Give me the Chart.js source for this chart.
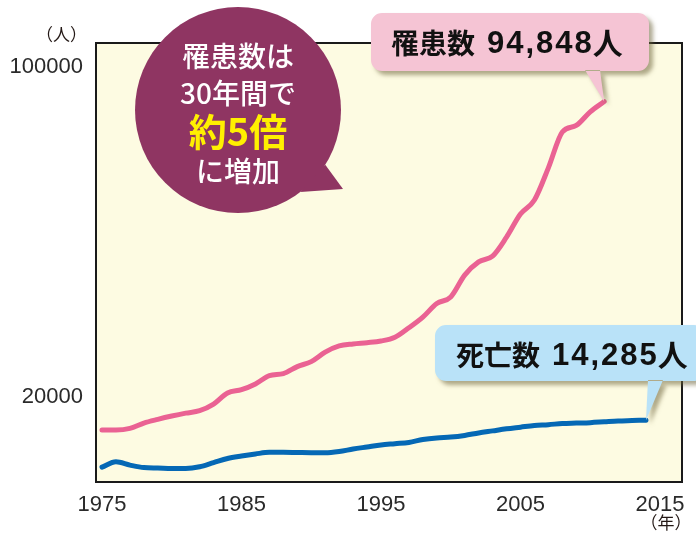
<!DOCTYPE html>
<html lang="ja">
<head>
<meta charset="utf-8">
<script src="https://cdn.jsdelivr.net/npm/chart.js@4.4.1/dist/chart.umd.min.js"></script>
<style>
  html, body { margin: 0; padding: 0; background: #ffffff; }
  #wrap { width: 696px; height: 535px; }
</style>
</head>
<body>
<div id="wrap"><canvas id="cancerChart" width="696" height="535"></canvas></div>
<script>
// years on the x axis (1975 - 2014)
const years = [
  1975, 1976, 1977, 1978, 1979, 1980, 1981, 1982, 1983, 1984,
  1985, 1986, 1987, 1988, 1989, 1990, 1991, 1992, 1993, 1994,
  1995, 1996, 1997, 1998, 1999, 2000, 2001, 2002, 2003, 2004,
  2005, 2006, 2007, 2008, 2009, 2010, 2011, 2012, 2013, 2014
];

// 罹患数 (1975 - 2011)
const incidence = [
  11900, 11900, 12300, 13600, 14500, 15300, 16000, 16600, 18200, 20900,
  21700, 23100, 25100, 25600, 27300, 28500, 30800, 32300, 32800, 33100,
  33500, 34400, 36700, 39300, 42600, 44200, 49500, 52700, 54100, 58700,
  64300, 67700, 75500, 84200, 85800, 89100, 91600
];

// 死亡数 (1975 - 2014)
const deaths = [
  2900, 4200, 3400, 2800, 2700, 2600, 2600, 3000, 4000, 5000,
  5600, 6100, 6500, 6500, 6450, 6400, 6400, 6700, 7300, 7800,
  8300, 8600, 8900, 9600, 10000, 10200, 10600, 11200, 11700, 12200,
  12600, 13000, 13200, 13500, 13600, 13700, 13900, 14100, 14200, 14300
];

const xTicks = [1975, 1985, 1995, 2005, 2015];
const yTicks = [20000, 100000];

const incidenceLabel = ['罹患数', '94,848', '人'];
const deathsLabel = ['死亡数', '14,285', '人'];
const bubbleLines = ['罹患数は', '30年間で', '約5倍', 'に増加'];

const JP = '"Noto Sans CJK JP", "Noto Sans", sans-serif';
const NUM = '"Liberation Sans", Arial, sans-serif';

function roundRectPath(ctx, x, y, w, h, r) {
  ctx.moveTo(x + r, y);
  ctx.lineTo(x + w - r, y);
  ctx.arcTo(x + w, y, x + w, y + r, r);
  ctx.lineTo(x + w, y + h - r);
  ctx.arcTo(x + w, y + h, x + w - r, y + h, r);
  ctx.lineTo(x + r, y + h);
  ctx.arcTo(x, y + h, x, y + h - r, r);
  ctx.lineTo(x, y + r);
  ctx.arcTo(x, y, x + r, y, r);
  ctx.closePath();
}

// callout box with a pointer going down to (tipX, tipY)
function drawCallout(ctx, box, base, tip, fill, parts, textY, textX) {
  ctx.save();
  ctx.shadowColor = 'rgba(110, 100, 60, 0.55)';
  ctx.shadowOffsetX = 4;
  ctx.shadowOffsetY = 4;
  ctx.shadowBlur = 4;
  ctx.fillStyle = fill;
  ctx.beginPath();
  roundRectPath(ctx, box.x, box.y, box.w, box.h, 11);
  ctx.moveTo(base[0], box.y + box.h - 1);
  ctx.lineTo(tip.x, tip.y);
  ctx.lineTo(base[1], box.y + box.h - 1);
  ctx.closePath();
  ctx.fill();
  ctx.restore();

  ctx.save();
  ctx.fillStyle = '#111111';
  ctx.textBaseline = 'middle';
  ctx.textAlign = 'left';
  let x = textX;
  ctx.font = 'bold 28px ' + JP;
  ctx.fillText(parts[0], x, textY);
  x += ctx.measureText(parts[0]).width + 12;
  ctx.font = 'bold 31px ' + NUM;
  ctx.letterSpacing = '2px';
  ctx.fillText(parts[1], x, textY + 1);
  x += ctx.measureText(parts[1]).width - 1;
  ctx.letterSpacing = '0px';
  ctx.font = 'bold 30px ' + JP;
  ctx.fillText(parts[2], x, textY);
  ctx.restore();
}

const decorPlugin = {
  id: 'decor',
  beforeDraw(chart) {
    const { ctx, chartArea: a } = chart;
    ctx.save();
    ctx.fillStyle = '#FDFBE2';
    ctx.fillRect(a.left, a.top, a.right - a.left, a.bottom - a.top);
    ctx.restore();
  },
  afterDatasetsDraw(chart) {
    const { ctx, chartArea: a } = chart;
    ctx.save();
    ctx.strokeStyle = '#1a1a1a';
    ctx.lineWidth = 2;
    ctx.strokeRect(a.left, a.top, a.right - a.left, a.bottom - a.top);
    ctx.restore();
  },
  afterDraw(chart) {
    const { ctx } = chart;
    const pinkEnd = chart.getDatasetMeta(0).data.at(-1);
    const blueEnd = chart.getDatasetMeta(1).data.at(-1);

    // unit labels
    ctx.save();
    ctx.fillStyle = '#231815';
    ctx.font = '17px ' + JP;
    ctx.textBaseline = 'middle';
    ctx.textAlign = 'right';
    ctx.fillText('（人）', 87, 35);
    ctx.textAlign = 'center';
    ctx.fillText('（年）', 666, 523);
    ctx.restore();

    // purple round bubble
    const cx = 238, cy = 110, r = 103;
    ctx.save();
    ctx.fillStyle = '#8F3562';
    ctx.beginPath();
    ctx.arc(cx, cy, r, 0, Math.PI * 2);
    ctx.fill();
    ctx.beginPath();
    ctx.moveTo(cx + r * Math.cos(0.56), cy + r * Math.sin(0.56));
    ctx.lineTo(343, 189);
    ctx.lineTo(cx + r * Math.cos(0.92), cy + r * Math.sin(0.92));
    ctx.closePath();
    ctx.fill();

    ctx.textAlign = 'center';
    ctx.textBaseline = 'middle';
    ctx.fillStyle = '#ffffff';
    ctx.font = '500 28px ' + JP;
    ctx.fillText(bubbleLines[0], cx, 56);
    ctx.fillText(bubbleLines[1], cx, 93);
    ctx.fillStyle = '#FFF000';
    ctx.font = 'bold 38px ' + JP;
    ctx.fillText(bubbleLines[2], cx, 132);
    ctx.fillStyle = '#ffffff';
    ctx.font = '500 28px ' + JP;
    ctx.fillText(bubbleLines[3], cx, 171);
    ctx.restore();

    drawCallout(ctx, { x: 371, y: 13, w: 278, h: 58 }, [585, 600],
      { x: pinkEnd.x, y: pinkEnd.y }, '#F5C4D4', incidenceLabel, 43, 391);
    drawCallout(ctx, { x: 435, y: 325, w: 270, h: 56 }, [648, 663],
      { x: blueEnd.x, y: blueEnd.y }, '#B9E2F8', deathsLabel, 355, 456);
  }
};

new Chart(document.getElementById('cancerChart').getContext('2d'), {
  type: 'line',
  data: {
    datasets: [
      {
        label: '罹患数',
        data: incidence.map((v, i) => ({ x: years[i], y: v })),
        borderColor: '#EA6293',
        borderWidth: 5,
        pointRadius: 0,
        cubicInterpolationMode: 'monotone',
        borderCapStyle: 'round',
        borderJoinStyle: 'round',
      },
      {
        label: '死亡数',
        data: deaths.map((v, i) => ({ x: years[i], y: v })),
        borderColor: '#0568B5',
        borderWidth: 5,
        pointRadius: 0,
        cubicInterpolationMode: 'monotone',
        borderCapStyle: 'round',
        borderJoinStyle: 'round',
      },
    ],
  },
  options: {
    responsive: false,
    animation: false,
    devicePixelRatio: 1,
    layout: { padding: { left: 0, right: 14, top: 43, bottom: 0 } },
    plugins: {
      legend: { display: false },
      tooltip: { enabled: false },
    },
    scales: {
      x: {
        type: 'linear',
        min: 1974.57,
        max: 2016.58,
        grid: { display: false, drawTicks: false },
        border: { display: false },
        afterBuildTicks: (scale) => {
          scale.ticks = xTicks.map((v) => ({ value: v }));
        },
        afterFit: (scale) => { scale.height = 53; },
        ticks: {
          color: '#2a2a2a',
          padding: 10,
          maxRotation: 0,
          font: { family: NUM, size: 22 },
          callback: (v) => String(v),
        },
      },
      y: {
        min: -700,
        max: 105800,
        grid: { display: false, drawTicks: false },
        border: { display: false },
        afterBuildTicks: (scale) => {
          scale.ticks = yTicks.map((v) => ({ value: v }));
        },
        afterFit: (scale) => { scale.width = 96; },
        ticks: {
          color: '#2a2a2a',
          padding: 13,
          font: { family: NUM, size: 22 },
          callback: (v) => String(v),
        },
      },
    },
  },
  plugins: [decorPlugin],
});
</script>
</body>
</html>
